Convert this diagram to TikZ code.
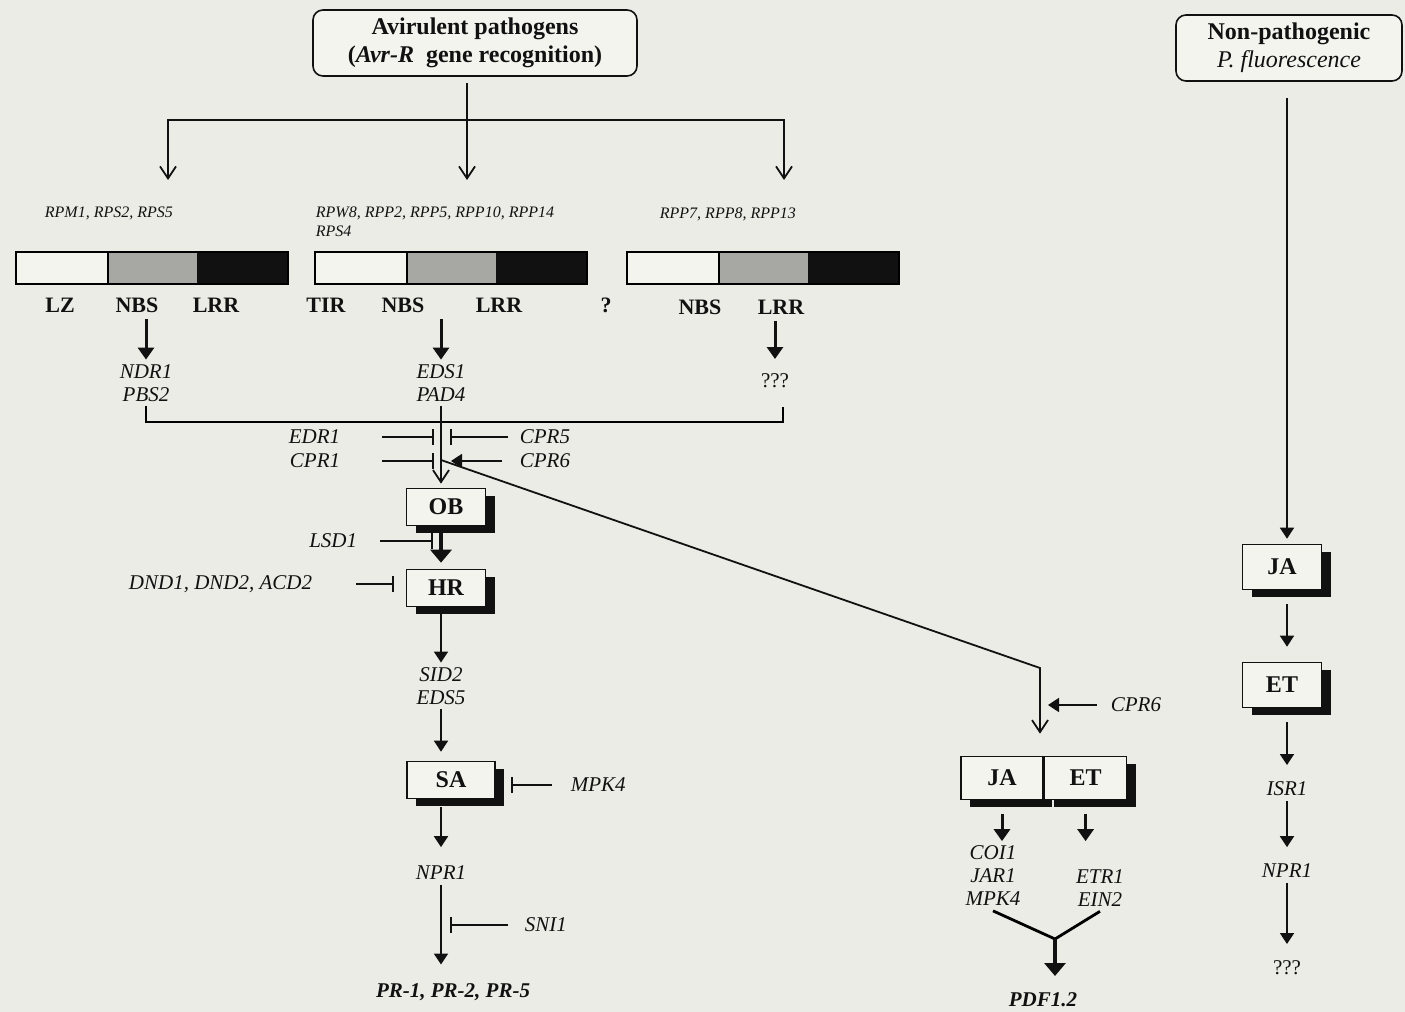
\documentclass[tikz,border=0pt]{standalone}
\usepackage{fontspec}
\setmainfont{Liberation Serif}
\usetikzlibrary{arrows.meta,positioning,shadows}
\definecolor{paper}{HTML}{ECECE6}
\definecolor{boxfill}{HTML}{F4F4EF}
\definecolor{nbsgray}{HTML}{A7A7A3}
\definecolor{ink}{HTML}{111111}
\tikzset{
  gene/.style={font=\fontsize{10.5}{11.5}\selectfont\itshape,text=ink,inner sep=2pt,align=center},
  plain/.style={font=\fontsize{10.5}{11.5}\selectfont,text=ink,inner sep=2pt},
  rgene/.style={font=\fontsize{8}{9.5}\selectfont\itshape,text=ink,inner sep=1pt,align=left},
  dom/.style={font=\fontsize{11}{13}\selectfont\bfseries,text=ink,inner sep=1pt},
  prod/.style={font=\fontsize{10.5}{12}\selectfont\bfseries\itshape,text=ink,inner sep=2pt},
  ttl/.style={draw=ink,fill=boxfill,rounded corners=5pt,align=center,line width=0.8pt,
    font=\fontsize{12}{14}\selectfont,text=ink},
  sbox/.style={draw=ink,fill=boxfill,line width=0.8pt,minimum width=39.5pt,minimum height=18.5pt,
    inner sep=0pt,font=\fontsize{12}{14}\selectfont\bfseries,text=ink,
    drop shadow={shadow xshift=4.5pt,shadow yshift=-3.5pt,fill=ink,opacity=1}},
  arr/.style={-{Triangle[length=5.5pt,width=7pt]},draw=ink},
  tarr/.style={-{Triangle[length=6pt,width=8pt]},draw=ink,line width=1.5pt},
  barr/.style={-{Triangle[length=6.5pt,width=10.5pt]},draw=ink,line width=1.6pt},
  varr/.style={-{Straight Barb[length=6pt,width=8pt]},draw=ink},
  inh/.style={-{Bar[width=8pt]},draw=ink},
}
\begin{document}
\begin{tikzpicture}[x=0.5pt,y=-0.5pt,line width=0.9pt]
  \fill[paper] (0,0) rectangle (1405,1012);
  \useasboundingbox (0,0) rectangle (1405,1012);

  % sources
  \node[ttl,minimum width=162pt,minimum height=33pt] (avr) at (475,43)
    {\textbf{Avirulent pathogens}\\\textbf{(\textit{Avr-R}\ \ gene recognition)}};
  \node[ttl,minimum width=113pt,minimum height=33pt] (npath) at (1289,48)
    {\textbf{Non-pathogenic}\\\textit{P. fluorescence}};

  \coordinate (hub) at (467,120);
  \coordinate (tipA) at (168,180);
  \coordinate (tipB) at (467,180);
  \coordinate (tipC) at (784,180);
  \draw[varr,shorten <=3pt] (avr.south -| hub) -- (tipB);
  \draw[varr] (hub) -| (tipA);
  \draw[varr] (hub) -| (tipC);

  % R protein classes
  \node[rgene,anchor=west] (grpA) at (42,213) {RPM1, RPS2, RPS5};
  \node[rgene,anchor=north west] (grpB) at (313,204) {RPW8, RPP2, RPP5, RPP10, RPP14\\RPS4};
  \node[rgene,anchor=west] (grpC) at (657,214) {RPP7, RPP8, RPP13};
  \foreach \x in {16,315,627} {
    \fill[boxfill] (\x,252) rectangle ++(92,32);
    \fill[nbsgray] (\x+92,252) rectangle ++(89,32);
    \fill[ink] (\x+181,252) rectangle ++(91,32);
    \draw (\x,252) rectangle ++(272,32) (\x+92,252) -- ++(0,32);
  }
  \foreach \x/\y/\t/\n in {60/305/LZ/lzA,137/305/NBS/nbsA,216/305/LRR/lrrA,
      326/305/TIR/tirB,403/305/NBS/nbsB,499/305/LRR/lrrB,
      606/305/?/unkC,700/307/NBS/nbsC,781/307/LRR/lrrC}
    \node[dom] (\n) at (\x,\y) {\t};

  \node[gene] (ndr) at (146,383) {NDR1\\PBS2};
  \node[gene] (eds) at (441,383) {EDS1\\PAD4};
  \node[plain] (qqqA) at (775,381) {???};
  \draw[tarr,shorten <=2pt] (ndr.north |- nbsA.south) -- (ndr.north);
  \draw[tarr,shorten <=2pt] (eds.north |- nbsB.south) -- (eds.north);
  \draw[tarr,shorten <=2pt,shorten >=5pt] (qqqA.north |- lrrC.south) -- (qqqA.north);

  \coordinate (cross) at (441,422);
  \draw (ndr.south) |- (cross) -| ([xshift=4pt,yshift=-7pt]qqqA.south);

  % SA branch
  \node[sbox] (ob) at (446,507) {OB};
  \node[sbox] (hr) at (446,588) {HR};
  \draw[varr,shorten >=2pt] (eds.south) -- (eds.south |- ob.north);

  \node[gene,anchor=east] (edr) at (345,437) {EDR1};
  \node[gene,anchor=east] (cpr1) at (345,461) {CPR1};
  \node[gene,anchor=west] (cpr5) at (515,437) {CPR5};
  \node[gene,anchor=west] (cpr6a) at (515,461) {CPR6};
  \draw[inh,shorten <=18.5pt,shorten >=3.5pt] (edr.east) -- (edr.east -| eds.south);
  \draw[inh,shorten <=18.5pt,shorten >=3.5pt] (cpr1.east) -- (cpr1.east -| eds.south);
  \draw[inh,shorten <=3.5pt,shorten >=4.5pt] (cpr5.west) -- (cpr5.west -| eds.south);
  \draw[arr,shorten <=6.5pt,shorten >=5pt] (cpr6a.west) -- (cpr6a.west -| eds.south);

  \node[gene,anchor=east] (lsd) at (362,541) {LSD1};
  \node[gene,anchor=east] (dnd) at (317,584) {DND1, DND2, ACD2};
  \draw[barr,shorten <=3.5pt,shorten >=3pt] (ob.south -| eds) -- (hr.north -| eds);
  \draw[inh,shorten <=9pt,shorten >=4pt] (lsd.east) -- (lsd.east -| eds);
  \draw[inh,shorten <=19.5pt,shorten >=6pt] (dnd.east) -- (dnd.east -| hr.west);

  \node[gene] (sid) at (441,686) {SID2\\EDS5};
  \node[sbox,minimum width=44pt] (sa) at (451,780) {SA};
  \node[gene,anchor=west] (mpkA) at (566,785) {MPK4};
  \node[gene] (npr) at (441,873) {NPR1};
  \node[gene,anchor=west] (sni) at (520,925) {SNI1};
  \node[prod] (pr) at (453,992) {PR-1, PR-2, PR-5};
  \draw[arr,shorten <=3.5pt] (hr.south -| sid) -- (sid);
  \draw[arr,shorten >=4.5pt] (sid) -- (sid |- sa.north);
  \draw[inh,shorten <=7pt,shorten >=7.5pt] (mpkA.west) -- (mpkA.west -| sa.east);
  \draw[arr,shorten <=4pt,shorten >=7pt] (sa.south -| npr) -- (npr);
  \draw[arr,shorten >=7pt] (npr) -- (npr |- pr.north);
  \draw[inh,shorten <=6pt,shorten >=4.5pt] (sni.west) -- (sni.west -| npr);

  % JA/ET branch
  \node[sbox,minimum width=41pt,minimum height=21.5pt] (jaB) at (1002,778) {JA};
  \node[sbox,minimum width=41pt,minimum height=21.5pt,right=0pt of jaB] (etB) {ET};
  \coordinate (fork) at (441,460);
  \coordinate (bend) at (1040,668);
  \draw[varr,shorten >=11pt] (fork) -- (bend) -- (bend |- jaB.north);
  \node[gene,anchor=west] (cpr6b) at (1106,705) {CPR6};
  \draw[arr,shorten <=4.5pt,shorten >=4pt] (cpr6b.west) -- (cpr6b.west -| bend);

  \node[gene] (coi) at (993,876) {COI1\\JAR1\\MPK4};
  \node[gene] (etr) at (1100,888) {ETR1\\EIN2};
  \draw[tarr,shorten <=7pt] (jaB.south) -- (jaB.south |- coi.north);
  \draw[tarr,shorten <=7pt] (etB.south) -- (etB.south |- coi.north);
  \coordinate (merge) at (1055,939);
  \node[prod] (pdf) at (1043,1000) {PDF1.2};
  \draw[line width=1.4pt] (coi.south) -- (merge) -- (etr.south);
  \draw[barr,shorten >=6pt] (merge) -- (merge |- pdf.north);

  % ISR branch
  \node[sbox,minimum height=22.5pt] (jaR) at (1282,567) {JA};
  \node[sbox,minimum height=22.5pt] (etR) at (1282,685) {ET};
  \node[gene] (isr) at (1287,789) {ISR1};
  \node[gene] (nprR) at (1287,871) {NPR1};
  \node[plain] (qqqB) at (1287,968) {???};
  \draw[arr,shorten <=8pt,shorten >=2.5pt] (npath.south -| isr) -- (isr |- jaR.north);
  \draw[arr,shorten <=7pt,shorten >=7.5pt] (jaR.south -| isr) -- (isr |- etR.north);
  \draw[arr,shorten <=7pt,shorten >=6pt] (etR.south -| isr) -- (isr);
  \draw[arr,shorten >=6pt] (isr) -- (nprR);
  \draw[arr,shorten >=6pt] (nprR) -- (qqqB);
\end{tikzpicture}
\end{document}
